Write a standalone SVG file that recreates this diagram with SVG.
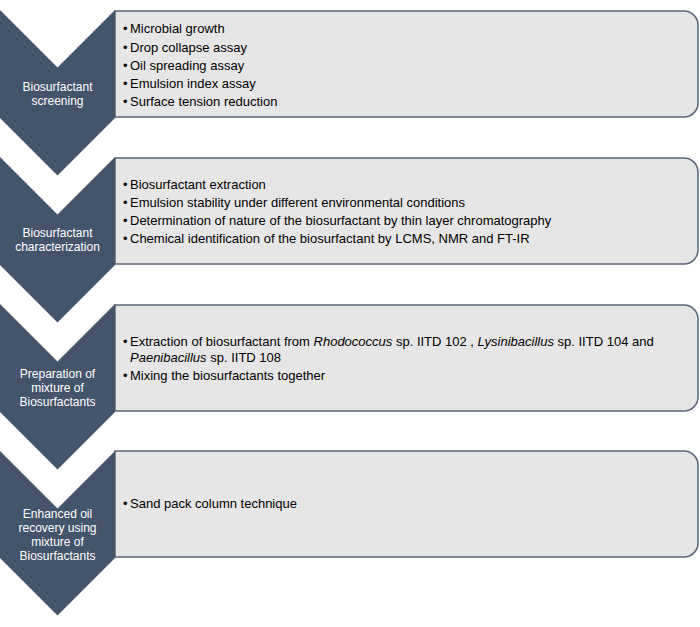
<svg xmlns="http://www.w3.org/2000/svg" width="700" height="627" viewBox="0 0 700 627">
<defs>
<style>
.chev{fill:#44546A;}
.box{fill:#E7E6E6;stroke:#5B6577;stroke-width:1.5;}
.lbl{font-family:"Liberation Sans",Arial,sans-serif;font-size:12px;fill:#FFFFFF;text-anchor:middle;}
.txt{font-family:"Liberation Sans",Arial,sans-serif;font-size:13px;fill:#000000;}
.it{font-style:italic;}
</style>
</defs>
<rect width="700" height="627" fill="#FFFFFF"/>
<g id="step1">
<path class="box" d="M115,11 H684 A14,14 0 0 1 698,25 V103 A14,14 0 0 1 684,117 H115 Z"/>
<polygon class="chev" points="0,10 57.5,67.5 115,10 115,118 57.5,175.5 0,118"/>
<text class="lbl"><tspan x="57.5" y="91">Biosurfactant</tspan><tspan x="57.5" y="105">screening</tspan></text>
<text class="txt"><tspan x="123" y="33">•</tspan><tspan x="130" y="33">Microbial growth</tspan><tspan x="123" y="52">•</tspan><tspan x="130" y="52">Drop collapse assay</tspan><tspan x="123" y="70">•</tspan><tspan x="130" y="70">Oil spreading assay</tspan><tspan x="123" y="88">•</tspan><tspan x="130" y="88">Emulsion index assay</tspan><tspan x="123" y="106">•</tspan><tspan x="130" y="106">Surface tension reduction</tspan></text>
</g>
<g id="step2">
<path class="box" d="M115,158 H684 A14,14 0 0 1 698,172 V250 A14,14 0 0 1 684,264 H115 Z"/>
<polygon class="chev" points="0,157 57.5,214.5 115,157 115,265 57.5,322.5 0,265"/>
<text class="lbl"><tspan x="57.5" y="237">Biosurfactant</tspan><tspan x="57.5" y="251">characterization</tspan></text>
<text class="txt"><tspan x="123" y="189">•</tspan><tspan x="130" y="189">Biosurfactant extraction</tspan><tspan x="123" y="207">•</tspan><tspan x="130" y="207">Emulsion stability under different environmental conditions</tspan><tspan x="123" y="225">•</tspan><tspan x="130" y="225">Determination of nature of the biosurfactant by thin layer chromatography</tspan><tspan x="123" y="243">•</tspan><tspan x="130" y="243">Chemical identification of the biosurfactant by LCMS, NMR and FT-IR</tspan></text>
</g>
<g id="step3">
<path class="box" d="M115,305 H684 A14,14 0 0 1 698,319 V397 A14,14 0 0 1 684,411 H115 Z"/>
<polygon class="chev" points="0,304 57.5,361.5 115,304 115,412 57.5,469.5 0,412"/>
<text class="lbl"><tspan x="57.5" y="378">Preparation of</tspan><tspan x="57.5" y="392">mixture of</tspan><tspan x="57.5" y="406">Biosurfactants</tspan></text>
<text class="txt"><tspan x="123" y="346">•</tspan><tspan x="130" y="346">Extraction of biosurfactant from </tspan><tspan class="it">Rhodococcus</tspan><tspan> sp. IITD 102 , </tspan><tspan class="it">Lysinibacillus</tspan><tspan> sp. IITD 104 and</tspan><tspan class="it" x="130" y="362">Paenibacillus</tspan><tspan> sp. IITD 108</tspan><tspan x="123" y="380">•</tspan><tspan x="130" y="380">Mixing the biosurfactants together</tspan></text>
</g>
<g id="step4">
<path class="box" d="M115,451 H684 A14,14 0 0 1 698,465 V543 A14,14 0 0 1 684,557 H115 Z"/>
<polygon class="chev" points="0,451 57.5,508.5 115,451 115,558 57.5,615.5 0,558"/>
<text class="lbl"><tspan x="57.5" y="518">Enhanced oil</tspan><tspan x="57.5" y="532">recovery using</tspan><tspan x="57.5" y="546">mixture of</tspan><tspan x="57.5" y="560">Biosurfactants</tspan></text>
<text class="txt"><tspan x="123" y="508">•</tspan><tspan x="130" y="508">Sand pack column technique</tspan></text>
</g>
<g id="connectors"></g>
</svg>
